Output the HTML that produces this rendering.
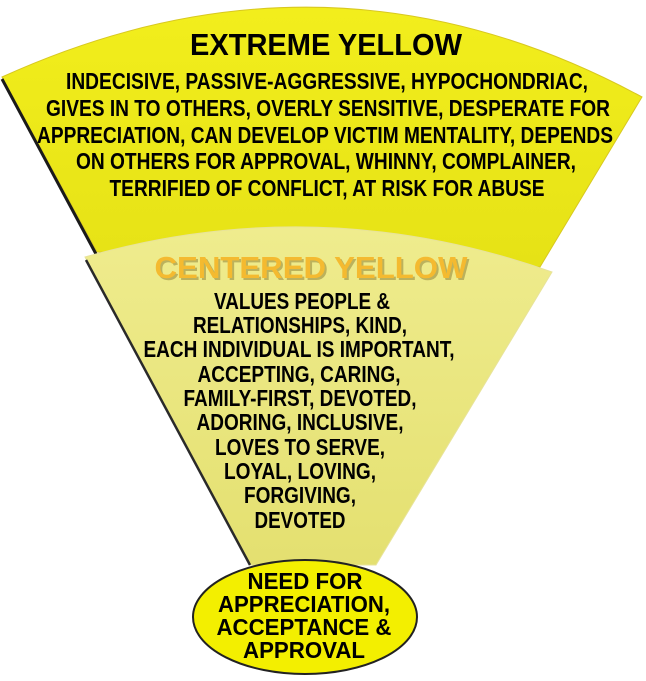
<!DOCTYPE html>
<html><head><meta charset="utf-8"><style>
html,body{margin:0;padding:0;background:#fff;}
svg{display:block;}
text{font-family:"Liberation Sans",sans-serif;font-weight:bold;text-anchor:middle;}
</style></head><body>
<svg width="646" height="681" viewBox="0 0 646 681" xmlns="http://www.w3.org/2000/svg">
<defs>
<linearGradient id="g1" x1="0" y1="0" x2="0" y2="1">
<stop offset="0" stop-color="#f2ee1c"/><stop offset="1" stop-color="#e6e216"/>
</linearGradient>
<linearGradient id="g2" x1="0" y1="0" x2="0" y2="1">
<stop offset="0" stop-color="#efec8e"/><stop offset="1" stop-color="#e4e070"/>
</linearGradient>
</defs>
<path d="M2,77 Q330,-72 642,97 L540,267 L97,252 Z" fill="url(#g1)" stroke="#d8c820" stroke-width="1"/>
<line x1="2" y1="79" x2="96" y2="254" stroke="#1a1a1a" stroke-width="3"/>
<path d="M85,257 Q320,190 552,272 L376,565 L250,565 Z" fill="url(#g2)" stroke="#e8e39a" stroke-width="1"/>
<line x1="86" y1="260" x2="250" y2="565" stroke="#2a2a2a" stroke-width="2.5"/>
<ellipse cx="305" cy="617" rx="112" ry="57" fill="#f3ef00" stroke="#222" stroke-width="2"/>

<text x="326" y="55" font-size="31" textLength="272" lengthAdjust="spacingAndGlyphs">EXTREME YELLOW</text>
<g font-size="23">
<text x="327" y="89" textLength="522" lengthAdjust="spacingAndGlyphs">INDECISIVE, PASSIVE-AGGRESSIVE, HYPOCHONDRIAC,</text>
<text x="328" y="116" textLength="564" lengthAdjust="spacingAndGlyphs">GIVES IN TO OTHERS, OVERLY SENSITIVE, DESPERATE FOR</text>
<text x="325" y="143" textLength="576" lengthAdjust="spacingAndGlyphs">APPRECIATION, CAN DEVELOP VICTIM MENTALITY, DEPENDS</text>
<text x="326" y="169" textLength="500" lengthAdjust="spacingAndGlyphs">ON OTHERS FOR APPROVAL, WHINNY, COMPLAINER,</text>
<text x="327" y="196" textLength="435" lengthAdjust="spacingAndGlyphs">TERRIFIED OF CONFLICT, AT RISK FOR ABUSE</text>
</g>
<text x="313" y="280" font-size="31" fill="#8a7a30" opacity="0.5" textLength="313" lengthAdjust="spacingAndGlyphs">CENTERED YELLOW</text>
<text x="311" y="278" font-size="31" fill="#f4ba30" textLength="313" lengthAdjust="spacingAndGlyphs">CENTERED YELLOW</text>
<g font-size="23">
<text x="302" y="309" textLength="176" lengthAdjust="spacingAndGlyphs">VALUES PEOPLE &amp;</text>
<text x="300" y="333" textLength="214" lengthAdjust="spacingAndGlyphs">RELATIONSHIPS, KIND,</text>
<text x="299" y="357" textLength="311" lengthAdjust="spacingAndGlyphs">EACH INDIVIDUAL IS IMPORTANT,</text>
<text x="299" y="382" textLength="203" lengthAdjust="spacingAndGlyphs">ACCEPTING, CARING,</text>
<text x="300" y="406" textLength="233" lengthAdjust="spacingAndGlyphs">FAMILY-FIRST, DEVOTED,</text>
<text x="300" y="430" textLength="207" lengthAdjust="spacingAndGlyphs">ADORING, INCLUSIVE,</text>
<text x="300" y="455" textLength="170" lengthAdjust="spacingAndGlyphs">LOVES TO SERVE,</text>
<text x="300" y="479" textLength="152" lengthAdjust="spacingAndGlyphs">LOYAL, LOVING,</text>
<text x="300" y="503" textLength="112" lengthAdjust="spacingAndGlyphs">FORGIVING,</text>
<text x="300" y="528" textLength="91" lengthAdjust="spacingAndGlyphs">DEVOTED</text>
</g>
<g font-size="23">
<text x="305" y="589" textLength="115" lengthAdjust="spacingAndGlyphs">NEED FOR</text>
<text x="304" y="612" textLength="172" lengthAdjust="spacingAndGlyphs">APPRECIATION,</text>
<text x="304" y="635" textLength="175" lengthAdjust="spacingAndGlyphs">ACCEPTANCE &amp;</text>
<text x="304" y="658" textLength="122" lengthAdjust="spacingAndGlyphs">APPROVAL</text>
</g>
</svg>
</body></html>
